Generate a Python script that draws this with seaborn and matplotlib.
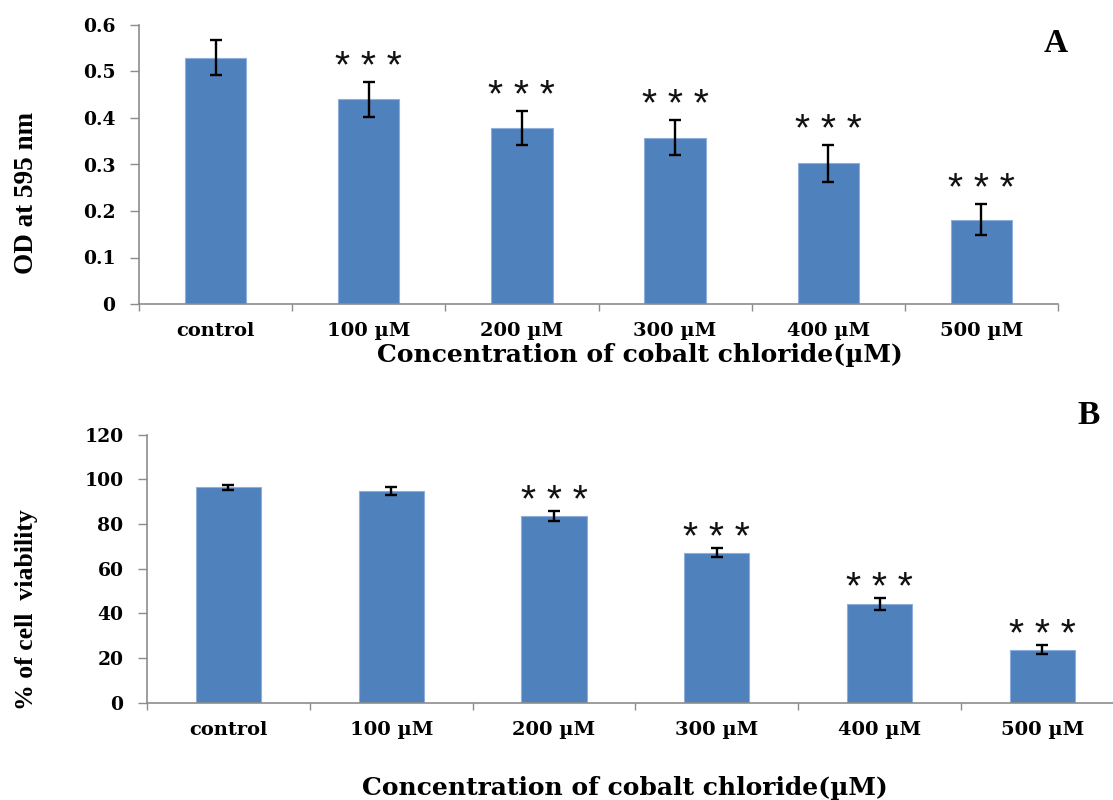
import matplotlib
matplotlib.use("Agg")
import matplotlib.pyplot as plt
import matplotlib.ticker as mticker
import numpy as np
import pandas as pd
import seaborn as sns

# Treatment groups
categories = ["control", "100 \u00b5M", "200 \u00b5M", "300 \u00b5M", "400 \u00b5M", "500 \u00b5M"]

# Panel A: optical density at 595 nm (mean and SD)
od_mean = [0.53, 0.44, 0.378, 0.358, 0.303, 0.181]
od_err = [0.037, 0.038, 0.037, 0.037, 0.040, 0.033]
od_sig = ["", "* * *", "* * *", "* * *", "* * *", "* * *"]

# Panel B: percentage of viable cells (mean and SD)
via_mean = [96.5, 94.7, 83.5, 67.2, 44.2, 23.8]
via_err = [1.1, 1.8, 2.3, 2.0, 2.9, 2.0]
via_sig = ["", "", "* * *", "* * *", "* * *", "* * *"]

sns.set_theme(style="white")
plt.rcParams["font.family"] = ["Liberation Serif", "DejaVu Serif"]
plt.rcParams["text.color"] = "black"

WIDE = ["DejaVu Serif"]
BAR = "#4F81BD"
EDGE = "#8EAEDB"
AXIS = "#8C8C8C"

fig = plt.figure(figsize=(11.13, 8.0), dpi=100)
ax_a = fig.add_axes([0.1249, 0.62, 0.9506 - 0.1249, 0.96875 - 0.62])
ax_b = fig.add_axes([0.1321, 0.1216, 1.0097 - 0.1321, 0.4566 - 0.1216])


def draw_panel(ax, means, errs, sig, ymax, ystep, fmt, star_gap, capsize):
    df = pd.DataFrame({"group": categories, "value": means})
    sns.barplot(data=df, x="group", y="value", color=BAR, width=0.4,
                saturation=1, edgecolor=EDGE, linewidth=0.8, ax=ax)
    x = np.arange(len(categories))
    ax.errorbar(x, means, yerr=errs, fmt="none", ecolor="black",
                elinewidth=1.7, capsize=capsize, capthick=1.7, zorder=5)
    for xi, m, e, s in zip(x, means, errs, sig):
        if s:
            ax.annotate(s, xy=(xi, m + e), xytext=(0, star_gap),
                        textcoords="offset pixels", ha="center", va="baseline",
                        fontsize=28, family=["Liberation Sans", "DejaVu Sans"],
                        color="#111111")
    ax.set_xlim(-0.5, len(categories) - 0.5)
    ax.set_ylim(0, ymax)
    ax.yaxis.set_major_locator(mticker.MultipleLocator(ystep))
    ax.yaxis.set_major_formatter(mticker.FuncFormatter(fmt))
    ax.set_xticks(x)
    ax.set_xticklabels(categories)
    ax.set_xticks(np.arange(-0.5, len(categories)), minor=True)
    ax.tick_params(axis="x", which="major", length=0, pad=13,
                   labelsize=14, labelcolor="black")
    ax.tick_params(axis="x", which="minor", length=5, width=1.0,
                   color=AXIS, direction="out", bottom=True)
    ax.tick_params(axis="y", length=6.5, width=1.0, color=AXIS,
                   direction="out", left=True, pad=10.5, labelsize=13.5,
                   labelcolor="black")
    for lab in ax.get_xticklabels() + ax.get_yticklabels():
        lab.set_fontweight("bold")
        lab.set_family(WIDE)
    for side in ("top", "right"):
        ax.spines[side].set_visible(False)
    for side in ("left", "bottom"):
        ax.spines[side].set_color(AXIS)
        ax.spines[side].set_linewidth(1.2)
    ax.set_xlabel("")
    ax.set_ylabel("")


draw_panel(ax_a, od_mean, od_err, od_sig, 0.6, 0.1,
           lambda v, p: "0" if abs(v) < 1e-9 else f"{v:.1f}", 4, 4.0)
draw_panel(ax_b, via_mean, via_err, via_sig, 120, 20,
           lambda v, p: f"{v:.0f}", -1, 4.5)

# Axis titles
fig.text(27 / 1113, 1 - 193 / 800, "OD at 595 nm", rotation=90,
         ha="center", va="center", fontsize=19.5, fontweight="bold")
fig.text(640 / 1113, 1 - 355 / 800, "Concentration of cobalt chloride(\u00b5M)",
         ha="center", va="center", fontsize=18, fontweight="bold", family=WIDE)
fig.text(27 / 1113, 1 - 610 / 800, "% of cell  viability", rotation=90,
         ha="center", va="center", fontsize=18.5, fontweight="bold")
fig.text(625 / 1113, 1 - 788 / 800, "Concentration of cobalt chloride(\u00b5M)",
         ha="center", va="center", fontsize=18, fontweight="bold", family=WIDE)

# Panel letters
fig.text(1056 / 1113, 1 - 43 / 800, "A", ha="center", va="center",
         fontsize=24, fontweight="bold")
fig.text(1089 / 1113, 1 - 416 / 800, "B", ha="center", va="center",
         fontsize=24, fontweight="bold")

fig.savefig("out.png", dpi=100, facecolor="white")
